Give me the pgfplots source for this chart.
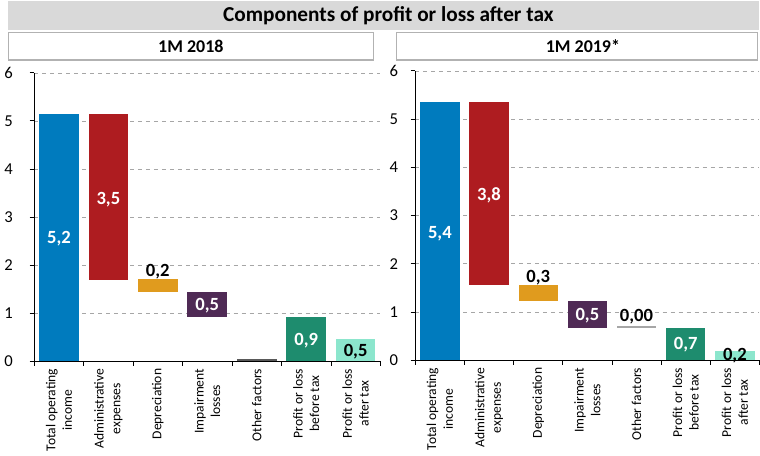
\documentclass[border=0pt]{standalone}
\usepackage{pgfplots}
\pgfplotsset{compat=1.18}
\usepackage{fontspec}
\setmainfont{Carlito}
\definecolor{cblue}{RGB}{0,123,190}
\definecolor{cred}{RGB}{174,28,32}
\definecolor{corange}{RGB}{224,155,30}
\definecolor{cpurple}{RGB}{79,42,85}
\definecolor{cgreen}{RGB}{30,140,110}
\definecolor{cteal}{RGB}{140,230,205}
\definecolor{cdgray}{RGB}{89,89,89}
\definecolor{clgray}{RGB}{166,166,166}
\definecolor{band}{RGB}{217,217,217}
\tikzset{vl/.style={font=\bfseries\fontsize{14}{14}\selectfont, inner sep=0pt}}
\pgfplotsset{
  wf/.style={
    scale only axis,
    xmin=-0.5, xmax=6.5, ymin=0, ymax=6,
    axis x line*=bottom, axis y line*=left,
    ybar stacked, bar width=0.8,
    ytick={0,1,...,6},
    xtick={-0.5,0.5,...,6.5},
    x tick label as interval,
    xticklabels={{Total operating\\income},{Administrative\\expenses},{Depreciation},{Impairment\\losses},{Other factors},{Profit or loss\\before tax},{Profit or loss\\after tax}},
    xticklabel style={rotate=90, anchor=east, align=center, font=\fontsize{10.2}{12.5}\selectfont, inner sep=2pt},
    /pgf/number format/assume math mode=true,
    tick align=outside, major tick length=3.5pt,
    tick style={black, line width=0.6pt},
    axis line style={black, line width=0.8pt},
    ymajorgrids, grid style={dashed, black!35, line width=0.5pt},
    clip=false,
  },
}
\begin{document}
\begin{tikzpicture}
\begin{scope}[x=0.75pt,y=-0.75pt]
\useasboundingbox (0,0) rectangle (760,457);
\fill[band] (7,1) rectangle (760,30);
\node[font=\bfseries\fontsize{16}{17}\selectfont] at (388,16) {Components of profit or loss after tax};
\draw[black!30, line width=1pt, fill=white] (7,32.5) rectangle (373,60);
\draw[black!30, line width=1pt, fill=white] (396,32.5) rectangle (758,60);
\node[font=\bfseries\fontsize{13.5}{14}\selectfont] at (190,46.5) {1M 2018};
\node[font=\bfseries\fontsize{13.5}{14}\selectfont] at (583,46.5) {1M 2019*};
\end{scope}

% Left: 1M 2018
\begin{axis}[wf, at={(24.75pt,-271.5pt)}, anchor=south west, width=260.25pt, height=216.75pt,
  yticklabel style={font=\fontsize{12.5}{12.5}\selectfont, xshift=-9pt},
  after end axis/.code={
    \node[vl, text=white] at (axis cs:0,2.55) {5,2};
    \node[vl, text=white] at (axis cs:1,3.36) {3,5};
    \node[vl, text=black] at (axis cs:2,1.87) {0,2};
    \node[vl, text=white] at (axis cs:3,1.15) {0,5};
    \node[vl, text=white] at (axis cs:5,0.42) {0,9};
    \node[vl, text=black] at (axis cs:6,0.2) {0,5};
  }]
\addplot[draw=none, fill=none] coordinates {(0,0) (1,1.68) (2,1.43) (3,0.92) (4,0) (5,0) (6,0)};
\addplot[draw=none, fill=cblue] coordinates {(0,5.15) (1,0) (2,0) (3,0) (4,0) (5,0) (6,0)};
\addplot[draw=none, fill=cred] coordinates {(0,0) (1,3.47) (2,0) (3,0) (4,0) (5,0) (6,0)};
\addplot[draw=none, fill=corange] coordinates {(0,0) (1,0) (2,0.27) (3,0) (4,0) (5,0) (6,0)};
\addplot[draw=none, fill=cpurple] coordinates {(0,0) (1,0) (2,0) (3,0.51) (4,0) (5,0) (6,0)};
\addplot[draw=none, fill=cdgray] coordinates {(0,0) (1,0) (2,0) (3,0) (4,0.04) (5,0) (6,0)};
\addplot[draw=none, fill=cgreen] coordinates {(0,0) (1,0) (2,0) (3,0) (4,0) (5,0.91) (6,0)};
\addplot[draw=none, fill=cteal] coordinates {(0,0) (1,0) (2,0) (3,0) (4,0) (5,0) (6,0.47)};
\end{axis}

% Right: 1M 2019*
\begin{axis}[wf, at={(311.25pt,-270.75pt)}, anchor=south west, width=258.75pt, height=217.5pt,
  yticklabel style={font=\fontsize{12.5}{12.5}\selectfont, xshift=-6pt},
  after end axis/.code={
    \node[vl, text=white] at (axis cs:0,2.63) {5,4};
    \node[vl, text=white] at (axis cs:1,3.41) {3,8};
    \node[vl, text=black] at (axis cs:2,1.71) {0,3};
    \node[vl, text=white] at (axis cs:3,0.93) {0,5};
    \node[vl, text=black] at (axis cs:4,0.9) {0,00};
    \node[vl, text=white] at (axis cs:5,0.33) {0,7};
    \node[vl, text=black] at (axis cs:6,0.1) {0,2};
  }]
\addplot[draw=none, fill=none] coordinates {(0,0) (1,1.55) (2,1.22) (3,0.67) (4,0.66) (5,0) (6,0)};
\addplot[draw=none, fill=cblue] coordinates {(0,5.35) (1,0) (2,0) (3,0) (4,0) (5,0) (6,0)};
\addplot[draw=none, fill=cred] coordinates {(0,0) (1,3.80) (2,0) (3,0) (4,0) (5,0) (6,0)};
\addplot[draw=none, fill=corange] coordinates {(0,0) (1,0) (2,0.33) (3,0) (4,0) (5,0) (6,0)};
\addplot[draw=none, fill=cpurple] coordinates {(0,0) (1,0) (2,0) (3,0.55) (4,0) (5,0) (6,0)};
\addplot[draw=none, fill=clgray] coordinates {(0,0) (1,0) (2,0) (3,0) (4,0.045) (5,0) (6,0)};
\addplot[draw=none, fill=cgreen] coordinates {(0,0) (1,0) (2,0) (3,0) (4,0) (5,0.66) (6,0)};
\addplot[draw=none, fill=cteal] coordinates {(0,0) (1,0) (2,0) (3,0) (4,0) (5,0) (6,0.2)};
\end{axis}
\end{tikzpicture}
\end{document}
